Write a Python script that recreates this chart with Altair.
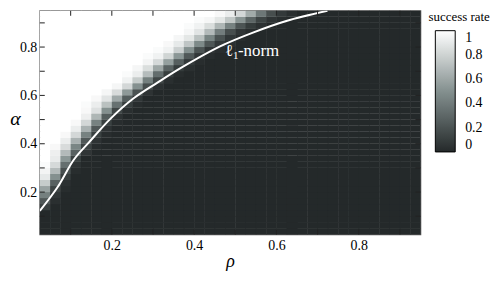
import altair as alt
import pandas as pd

# ---- grid of the success-rate map (cell edges every 0.025) ----
grid_start = 0.025
grid_step = 0.025
n_cols = 37
n_rows = 37

# per row (bottom to top): first column of the grey transition band,
# and the success rates read along that band (left of it = 1, right of it = 0)
row_start = [0, 0, 0, 0, 0, 0, 0, 0, 0, 0, 0, 0, 1, 1, 1, 2, 2, 3, 3, 4,
             4, 4, 5, 6, 7, 8, 8, 9, 10, 10, 11, 12, 13, 14, 14, 15, 17]
row_band = [
    [], [], [], [],
    [0.11],
    [0.23, 0.03],
    [0.42, 0.07],
    [0.58, 0.13, 0.02],
    [0.77, 0.27, 0.04],
    [0.90, 0.50, 0.10],
    [0.95, 0.69, 0.19, 0.02],
    [0.98, 0.83, 0.34, 0.05],
    [0.91, 0.53, 0.11],
    [0.93, 0.69, 0.27, 0.06],
    [0.97, 0.84, 0.45, 0.12, 0.02],
    [0.92, 0.65, 0.23, 0.05],
    [0.97, 0.82, 0.43, 0.11, 0.02],
    [0.92, 0.65, 0.23, 0.05],
    [0.97, 0.82, 0.43, 0.11, 0.02],
    [0.93, 0.67, 0.25, 0.05],
    [0.97, 0.86, 0.50, 0.14, 0.03],
    [0.98, 0.92, 0.72, 0.35, 0.10, 0.02],
    [0.97, 0.88, 0.61, 0.25, 0.07],
    [0.96, 0.84, 0.54, 0.20, 0.05],
    [0.96, 0.82, 0.50, 0.18, 0.04],
    [0.94, 0.77, 0.42, 0.14, 0.03],
    [0.98, 0.92, 0.70, 0.33, 0.10, 0.02],
    [0.96, 0.85, 0.60, 0.28, 0.09, 0.03],
    [0.95, 0.83, 0.57, 0.26, 0.08, 0.02],
    [0.98, 0.94, 0.81, 0.53, 0.23, 0.07, 0.02],
    [0.98, 0.94, 0.79, 0.50, 0.21, 0.06, 0.02],
    [0.97, 0.90, 0.74, 0.47, 0.22, 0.08, 0.03],
    [0.96, 0.89, 0.72, 0.44, 0.20, 0.07, 0.02],
    [0.96, 0.88, 0.69, 0.41, 0.18, 0.06, 0.02],
    [0.98, 0.94, 0.85, 0.67, 0.43, 0.21, 0.09, 0.04],
    [0.98, 0.96, 0.89, 0.75, 0.52, 0.29, 0.13, 0.05, 0.02],
    [0.97, 0.92, 0.82, 0.62, 0.38, 0.18, 0.08, 0.03],
]

# ---- l1-norm threshold curve ----
curve_rho = [0.025, 0.068, 0.108, 0.145, 0.197, 0.253, 0.310, 0.370,
             0.463, 0.543, 0.624, 0.724]
curve_alpha = [0.122, 0.220, 0.335, 0.407, 0.504, 0.588, 0.652, 0.716,
               0.803, 0.860, 0.908, 0.950]

tick_values = [0.1, 0.2, 0.3, 0.4, 0.5, 0.6, 0.7, 0.8, 0.9]
label_values = [0.2, 0.4, 0.6, 0.8]
legend_values = [0, 0.2, 0.4, 0.6, 0.8, 1]
label_pos = {"rho": [0.475], "alpha": [0.765]}

# ---- build tables ----
overlap = 0.0012   # tiny overlap so neighbouring cells show no seams
cells = []
for r in range(n_rows):
    s = row_start[r]
    band = row_band[r]
    for c in range(n_cols):
        if c < s:
            v = 1.0
        elif c < s + len(band):
            v = band[c - s]
        else:
            v = 0.0
        cells.append({
            "x0": grid_start + c * grid_step,
            "x1": min(grid_start + (c + 1) * grid_step + overlap, 0.95),
            "y0": grid_start + r * grid_step,
            "y1": min(grid_start + (r + 1) * grid_step + overlap, 0.95),
            "rate": v,
        })
cells = pd.DataFrame(cells)
curve = pd.DataFrame({"rho": curve_rho, "alpha": curve_alpha})
ticks = pd.DataFrame({"v": tick_values})
lab = pd.DataFrame(label_pos)

W, H = 383, 225
FONT = "'Liberation Serif', 'Times New Roman', Times, serif"
xs = alt.Scale(domain=[0.025, 0.95], nice=False, zero=False)
ys = alt.Scale(domain=[0.025, 0.95], nice=False, zero=False)
color_range = ["#24292a", "#84908f", "#ffffff"]

heat = alt.Chart(cells).mark_rect().encode(
    x=alt.X("x0:Q", scale=xs, axis=alt.Axis(
        values=label_values, title="ρ", ticks=False, domain=False, grid=False,
        labelFont=FONT, labelFontSize=14, labelColor="black", labelPadding=4,
        titleFont=FONT, titleFontStyle="italic", titleFontWeight="normal",
        titleFontSize=18, titleColor="black", titlePadding=0)),
    x2="x1:Q",
    y=alt.Y("y0:Q", scale=ys, axis=alt.Axis(
        values=label_values, title="α", ticks=False, domain=False, grid=False,
        labelFont=FONT, labelFontSize=14, labelColor="black", labelPadding=3,
        titleFont=FONT, titleFontStyle="italic", titleFontWeight="normal",
        titleFontSize=20, titleColor="black", titleAngle=0, titleAlign="center",
        titleBaseline="middle", titleX=-25, titleY=H * 0.48)),
    y2="y1:Q",
    color=alt.Color("rate:Q",
        scale=alt.Scale(domain=[0, 0.5, 1], range=color_range, interpolate="rgb"),
        legend=alt.Legend(
            type="gradient",
            title="success rate", orient="none", legendX=391, legendY=0,
            direction="vertical", gradientLength=122, gradientThickness=20,
            gradientStrokeColor="black", gradientStrokeWidth=1,
            values=legend_values, format=".1~f", labelFont=FONT, labelFontSize=14,
            labelColor="black", labelOffset=10,
            titleFont=FONT, titleFontSize=13, titleFontWeight="normal",
            titleColor="black", titlePadding=7, titleAnchor="middle")),
)

line = alt.Chart(curve).mark_line(color="white", strokeWidth=2, clip=True,
                                  interpolate="catmull-rom").encode(
    x=alt.X("rho:Q", scale=xs),
    y=alt.Y("alpha:Q", scale=ys),
)

tick_style = dict(color="#222222", strokeWidth=1)
tb = alt.Chart(ticks).mark_rule(**tick_style).encode(
    x=alt.X("v:Q", scale=xs), y=alt.value(H), y2=alt.value(H - 5))
tt = alt.Chart(ticks).mark_rule(**tick_style).encode(
    x=alt.X("v:Q", scale=xs), y=alt.value(0), y2=alt.value(5))
tl = alt.Chart(ticks).mark_rule(**tick_style).encode(
    y=alt.Y("v:Q", scale=ys), x=alt.value(0), x2=alt.value(5))
tr = alt.Chart(ticks).mark_rule(**tick_style).encode(
    y=alt.Y("v:Q", scale=ys), x=alt.value(W - 5), x2=alt.value(W))

def txt(t, size, dx, dy):
    return alt.Chart(lab).mark_text(
        text=t, font=FONT, fontSize=size, color="white", align="left",
        baseline="alphabetic", dx=dx, dy=dy).encode(
        x=alt.X("rho:Q", scale=xs),
        y=alt.Y("alpha:Q", scale=ys))

label = txt("ℓ", 17, 0, 0) + txt("1", 11, 8, 3) + txt("-norm", 17, 13, 0)

chart = alt.layer(heat, line, tb, tt, tl, tr, label).properties(
    width=W, height=H,
    padding={"left": 1, "top": 1, "right": 0, "bottom": 0},
    background="white",
).configure_view(stroke="#555555", strokeWidth=1.3)

chart.save("out.html", embed_options={"renderer": "svg", "actions": False})
